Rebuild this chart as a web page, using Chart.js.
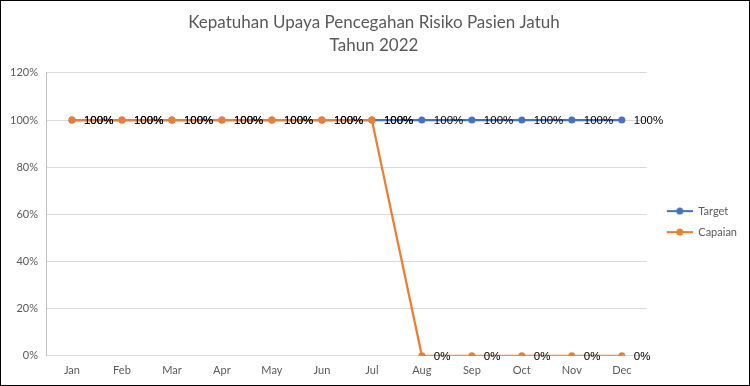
<!DOCTYPE html>
<html>
<head>
<meta charset="utf-8">
<script src="https://cdn.jsdelivr.net/npm/chart.js@4.4.0/dist/chart.umd.min.js"></script>
<style>
  html, body { margin: 0; padding: 0; background: #fff; }
  #wrap { width: 750px; height: 386px; box-sizing: border-box; border: 1px solid #000; }
</style>
</head>
<body>
<div id="wrap"><canvas id="myChartLine" width="748" height="384"></canvas></div>
<script>
const months = ['Jan', 'Feb', 'Mar', 'Apr', 'May', 'Jun', 'Jul', 'Aug', 'Sep', 'Oct', 'Nov', 'Dec'];
const target = [100, 100, 100, 100, 100, 100, 100, 100, 100, 100, 100, 100];
const capaian = [100, 100, 100, 100, 100, 100, 100, 0, 0, 0, 0, 0];
const titleLines = ['Kepatuhan Upaya Pencegahan Risiko Pasien Jatuh', 'Tahun 2022'];

const blue = '#4472C4';
const orange = '#ED7D31';

// little line + dot marker for the legend (left part left blank as a gap)
function legendMarker(color) {
    const c = document.createElement('canvas');
    c.width = 36;
    c.height = 8;
    const g = c.getContext('2d');
    g.strokeStyle = color;
    g.lineWidth = 2;
    g.beginPath();
    g.moveTo(10, 4);
    g.lineTo(36, 4);
    g.stroke();
    g.fillStyle = color;
    g.beginPath();
    g.arc(23, 4, 3.5, 0, Math.PI * 2);
    g.fill();
    return c;
}
const markers = [legendMarker(blue), legendMarker(orange)];

// percent labels to the right of every point
const pointLabels = {
    id: 'pointLabels',
    afterDatasetsDraw(chart) {
        const ctx = chart.ctx;
        ctx.save();
        ctx.font = '11.5px "Liberation Sans", Arial, sans-serif';
        ctx.fillStyle = '#000';
        ctx.textAlign = 'left';
        ctx.textBaseline = 'middle';
        chart.data.datasets.forEach((ds, i) => {
            const meta = chart.getDatasetMeta(i);
            meta.data.forEach((pt, j) => {
                ctx.fillText(ds.data[j] + '%', pt.x + 12, pt.y + 1);
            });
        });
        ctx.restore();
    }
};

const ctxline = document.getElementById('myChartLine');

new Chart(ctxline, {
    type: 'line',
    data: {
        labels: months,
        datasets: [{
            label: 'Target',
            data: target,
            borderColor: blue,
            backgroundColor: blue,
            borderWidth: 2.25,
            pointRadius: 3.5,
            pointHoverRadius: 3.5,
            pointBorderWidth: 0,
            order: 2
        }, {
            label: 'Capaian',
            data: capaian,
            borderColor: orange,
            backgroundColor: orange,
            borderWidth: 2.25,
            pointRadius: 3.5,
            pointHoverRadius: 3.5,
            pointBorderWidth: 0,
            order: 1
        }]
    },
    options: {
        responsive: false,
        animation: false,
        layout: { padding: { left: 0, right: 2, top: 0, bottom: 0 } },
        plugins: {
            title: {
                display: true,
                text: titleLines,
                color: '#595959',
                font: { family: 'Lato', size: 17, weight: 'normal', lineHeight: 1.35 },
                padding: { top: 10, bottom: 16 }
            },
            legend: {
                position: 'right',
                title: {
                    display: true,
                    text: ' ',
                    font: { size: 11 },
                    padding: { top: 44, bottom: 0 }
                },
                labels: {
                    usePointStyle: true,
                    pointStyleWidth: 36,
                    color: '#595959',
                    font: { family: 'Lato', size: 11 },
                    padding: 10,
                    sort: (a, b) => a.datasetIndex - b.datasetIndex,
                    generateLabels(chart) {
                        const items = Chart.defaults.plugins.legend.labels.generateLabels(chart);
                        items.forEach(it => { it.pointStyle = markers[it.datasetIndex]; });
                        return items;
                    }
                }
            },
            tooltip: { enabled: false }
        },
        scales: {
            x: {
                offset: true,
                grid: { display: false, drawTicks: false },
                border: { color: '#d9d9d9', width: 1 },
                ticks: { color: '#595959', font: { family: 'Lato', size: 11 }, padding: 8 }
            },
            y: {
                min: 0,
                max: 120,
                grid: { color: '#d9d9d9', drawTicks: false },
                border: { color: '#bfbfbf', width: 1 },
                ticks: {
                    stepSize: 20,
                    color: '#595959',
                    font: { family: 'Lato', size: 11 },
                    padding: 9,
                    callback: v => v + '%'
                }
            }
        }
    },
    plugins: [pointLabels]
});
</script>
</body>
</html>
